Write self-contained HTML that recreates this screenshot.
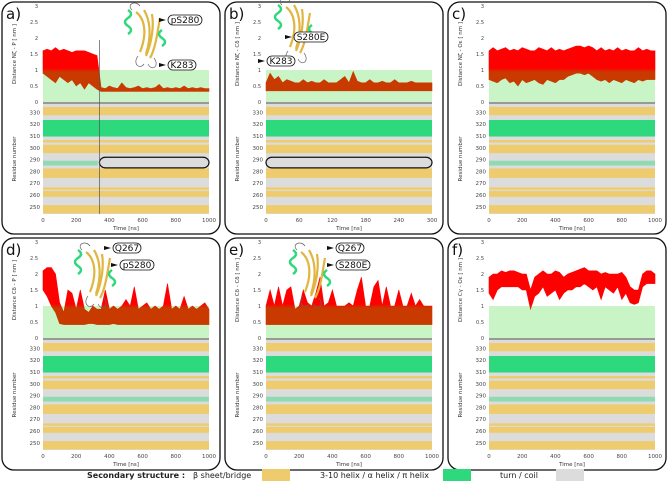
<!DOCTYPE html>
<html><head><meta charset="utf-8">
<style>
html,body{margin:0;padding:0;background:#fff;}
body{width:669px;height:483px;overflow:hidden;font-family:"Liberation Sans","DejaVu Sans",sans-serif;}
svg text{font-family:"DejaVu Sans","Liberation Sans",sans-serif;}
</style></head>
<body>
<svg id="fig" width="669" height="483" viewBox="0 0 669 483" xmlns="http://www.w3.org/2000/svg">
<defs>
<linearGradient id="gA" gradientUnits="userSpaceOnUse" x1="0" y1="0" x2="0" y2="100">
<stop offset="0" stop-color="#ff0000"/><stop offset="0.66" stop-color="#ff0000"/><stop offset="0.7" stop-color="#c83a00"/><stop offset="1" stop-color="#c83a00"/>
</linearGradient>
</defs>
<g id="panels"></g>
<g id="legend">
<text x="87" y="478" font-size="8" font-weight="bold" fill="#222">Secondary structure :</text>
<text x="193" y="478" font-size="8" fill="#222">β sheet/bridge</text>
<rect x="262" y="469" width="28" height="12" fill="#eecb6c"/>
<text x="320" y="478" font-size="8" fill="#222">3-10 helix / α helix / π helix</text>
<rect x="443" y="469" width="28" height="12" fill="#2ed87c"/>
<text x="500" y="478" font-size="8" fill="#222">turn / coil</text>
<rect x="556" y="469" width="28" height="12" fill="#dcdcdc"/>
</g>
</svg>
<script>
// ---- data ----
const panelLetters = ['a','b','c','d','e','f'];
const yLabels = ['Distance N\u03B6 - P [ nm ]','Distance N\u03B6 - C\u03B4 [ nm ]','Distance N\u03B6 - O\u03B5 [ nm ]','Distance C\u03B4 - P [ nm ]','Distance C\u03B4 - C\u03B4 [ nm ]','Distance C\u03B3 - O\u03B5 [ nm ]'];
const timeMax = [1000,300,1000,1000,1000,1000];
const xTicksLong = [0,200,400,600,800,1000];
const xTicksShort = [0,60,120,180,240,300];
const yTicks = [0,0.5,1,1.5,2,2.5,3];
const resTicks = [250,260,270,280,290,300,310,320,330];
const hiA = [1.6,1.65,1.6,1.7,1.6,1.65,1.6,1.55,1.6,1.6,1.6,1.55,1.5,1.45,0.45,0.42,0.5,0.45,0.42,0.6,0.45,0.42,0.45,0.5,0.42,0.45,0.42,0.45,0.55,0.42,0.45,0.42,0.45,0.42,0.5,0.42,0.45,0.42,0.45,0.42,0.42];
const loA = [0.9,0.8,0.7,0.6,0.8,0.7,0.6,0.7,0.5,0.6,0.4,0.6,0.5,0.4,0.33,0.33,0.33,0.33,0.33,0.33,0.33,0.33,0.33,0.33,0.33,0.33,0.33,0.33,0.33,0.33,0.33,0.33,0.33,0.33,0.33,0.33,0.33,0.33,0.33,0.33,0.33];
const hiB = [0.6,0.9,0.7,0.8,0.6,0.7,0.65,0.6,0.6,0.7,0.6,0.65,0.6,0.6,0.7,0.6,0.6,0.6,0.7,0.8,0.6,0.95,0.65,0.6,0.6,0.7,0.6,0.6,0.65,0.6,0.6,0.7,0.6,0.6,0.6,0.65,0.6,0.6,0.6,0.6,0.6];
const loB = [0.35,0.35,0.35,0.35,0.35,0.35,0.35,0.35,0.35,0.35,0.35,0.35,0.35,0.35,0.35,0.35,0.35,0.35,0.35,0.35,0.35,0.35,0.35,0.35,0.35,0.35,0.35,0.35,0.35,0.35,0.35,0.35,0.35,0.35,0.35,0.35,0.35,0.35,0.35,0.35,0.35];
const hiC = [1.6,1.7,1.6,1.65,1.7,1.6,1.65,1.6,1.7,1.65,1.6,1.6,1.7,1.65,1.6,1.7,1.6,1.65,1.6,1.65,1.7,1.75,1.75,1.7,1.75,1.7,1.6,1.7,1.6,1.65,1.6,1.7,1.6,1.65,1.6,1.6,1.7,1.6,1.65,1.6,1.6];
const loC = [0.7,0.65,0.6,0.7,0.75,0.6,0.65,0.5,0.7,0.6,0.65,0.7,0.6,0.55,0.7,0.65,0.6,0.7,0.7,0.8,0.85,0.9,0.9,0.85,0.9,0.8,0.7,0.65,0.7,0.6,0.7,0.65,0.6,0.7,0.65,0.6,0.7,0.65,0.7,0.7,0.7];
const hiD = [2.1,2.2,2.2,2.0,1.1,0.8,1.5,1.4,0.9,1.5,0.9,0.8,1.0,0.9,0.9,1.5,0.9,1.0,0.9,1.0,1.2,1.0,1.6,0.9,1.0,1.1,0.9,1.0,0.9,1.0,1.7,0.9,1.0,0.9,1.3,0.9,1.0,0.9,1.0,1.1,0.9];
const loD = [1.5,1.3,1.0,0.8,0.45,0.42,0.42,0.42,0.42,0.42,0.42,0.45,0.45,0.42,0.42,0.42,0.42,0.45,0.42,0.42,0.42,0.42,0.42,0.42,0.42,0.42,0.42,0.42,0.42,0.42,0.42,0.42,0.42,0.42,0.42,0.42,0.42,0.42,0.42,0.42,0.42];
const hiE = [1.0,1.5,1.0,1.6,1.0,1.5,1.6,0.9,1.0,1.5,1.1,1.0,1.4,1.9,1.0,1.1,1.5,1.0,1.0,1.0,1.1,1.0,1.5,1.9,1.0,1.0,1.6,1.8,1.0,1.6,1.0,1.0,1.5,1.0,1.0,1.4,1.0,1.2,1.0,1.0,1.0];
const loE = [0.42,0.42,0.42,0.42,0.42,0.42,0.42,0.42,0.42,0.42,0.42,0.42,0.42,0.42,0.42,0.42,0.42,0.42,0.42,0.42,0.42,0.42,0.42,0.42,0.42,0.42,0.42,0.42,0.42,0.42,0.42,0.42,0.42,0.42,0.42,0.42,0.42,0.42,0.42,0.42,0.42];
const hiF = [1.9,2.0,2.0,2.1,2.05,2.1,2.1,2.05,2.0,2.0,1.5,1.9,2.0,2.1,2.0,2.0,2.1,2.05,1.9,2.0,2.05,2.1,2.15,2.2,2.1,2.1,2.1,2.0,2.05,2.0,2.0,2.0,2.05,1.9,1.6,1.5,1.5,2.0,2.1,2.1,2.0];
const loF = [1.4,1.2,1.5,1.6,1.6,1.6,1.6,1.6,1.5,1.5,0.9,1.3,1.4,1.6,1.3,1.4,1.5,1.2,1.4,1.5,1.5,1.6,1.6,1.7,1.6,1.5,1.6,1.2,1.6,1.5,1.4,1.6,1.2,1.4,1.1,1.05,1.1,1.6,1.7,1.7,1.7];
const hiSeries = [hiA,hiB,hiC,hiD,hiE,hiF];
const loSeries = [loA,loB,loC,loD,loE,loF];
// secondary structure bands: [fromResidue, toResidue, type]
const ssBands = [[245,251,'sheet'],[259,263,'sheet'],[265,266,'sheet'],[275,282,'sheet'],[296,302,'sheet'],[305,306,'sheet'],[310,323,'helix'],[328,334,'sheet']];
const helixSpeckEnd = [330,0,1000,1000,1000,1000];

const P0 = [[2,2],[225,2],[448,2],[2,238],[225,238],[448,238]];
const colors = {sheet:'#eecb6c',helix:'#2ed87c',coil:'#dcdcdc'};
const NS='http://www.w3.org/2000/svg';
const root=document.getElementById('panels');
function mk(tag,attrs,parent){const e=document.createElementNS(NS,tag);for(const k in attrs)e.setAttribute(k,attrs[k]);(parent||root).appendChild(e);return e;}

for(let p=0;p<6;p++){
  const [ox,oy]=P0[p];
  const g=mk('g',{transform:`translate(${ox},${oy})`});
  
  
  const L=41,R=207,T=4,B0=100,RT=102,RB=212;
  const tmax=timeMax[p];
  const xs=t=>L+(R-L)*t/tmax;
  const ys=v=>B0-(B0-T)*v/3;
  const rs=r=>RB-(RB-RT)*(r-244)/(337-244);
  const frame=mk('rect',{x:0,y:0,width:218,height:232,rx:12,fill:'none',stroke:'#111','stroke-width':1.3},g);
  
  
  const lab=mk('text',{x:4,y:17,'font-size':15,fill:'#111'},g);lab.textContent=panelLetters[p]+')';
  
  
  const gz=mk('rect',{x:L,y:ys(1),width:R-L,height:ys(0)-ys(1),fill:'#c9f5c6'},g);
  
  
  yTicks.forEach(v=>{const t=mk('text',{x:L-5,y:ys(v)+2,'font-size':5,'text-anchor':'end',fill:'#444'},g);t.textContent=v;
    });
  const yl=mk('text',{transform:`translate(14,${(T+B0)/2}) rotate(-90)`,'font-size':5.5,'text-anchor':'middle',fill:'#333'},g);yl.textContent=yLabels[p];
  
  const hi=hiSeries[p],lo=loSeries[p],n=hi.length;
  let d='';
  for(let i=0;i<n;i++)d+=(i?'L':'M')+xs(i*tmax/(n-1)).toFixed(1)+','+ys(hi[i]).toFixed(1);
  for(let i=n-1;i>=0;i--)d+='L'+xs(i*tmax/(n-1)).toFixed(1)+','+ys(lo[i]).toFixed(1);
  const ser=mk('path',{d:d+'Z',fill:'url(#gA)',stroke:'url(#gA)','stroke-width':0.6},g);
  
  
  const bg=mk('rect',{x:L,y:RT,width:R-L,height:RB-RT,fill:colors.coil},g);
  
  ssBands.forEach(b=>{const r=mk('rect',{x:L,y:rs(b[1]+0.5),width:R-L,height:rs(b[0]-0.5)-rs(b[1]+0.5),fill:colors[b[2]]},g);
    });
  if(helixSpeckEnd[p]>0){const r=mk('rect',{x:L,y:rs(289),width:xs(Math.min(helixSpeckEnd[p],tmax))-L,height:rs(285)-rs(289),fill:colors.helix,opacity:0.45},g);
    }
  const sep=mk('rect',{x:L,y:B0,width:R-L,height:2,fill:'#999'},g);
  
  resTicks.forEach(v=>{const t=mk('text',{x:L-3,y:rs(v)+2,'font-size':5.5,'text-anchor':'end',fill:'#444'},g);t.textContent=v;
    });
  const rl=mk('text',{transform:`translate(14,${(RT+RB)/2}) rotate(-90)`,'font-size':5.5,'text-anchor':'middle',fill:'#333'},g);rl.textContent='Residue number';
  
  const xt=tmax===300?xTicksShort:xTicksLong;
  xt.forEach(v=>{const t=mk('text',{x:xs(v),y:RB+8,'font-size':5.5,'text-anchor':'middle',fill:'#444'},g);t.textContent=v;
    });
  const xl=mk('text',{x:(L+R)/2,y:RB+16,'font-size':5.5,'text-anchor':'middle',fill:'#333'},g);xl.textContent='Time [ns]';
  
  if(p===0||p===1){
    const hb=mk('rect',{x:p===0?xs(340):L,y:rs(292),width:p===0?R-xs(340):R-L,height:rs(283)-rs(292),rx:6,fill:'none',stroke:'#111','stroke-width':1.2},g);
    
  }
  if(p===0){const vl=mk('line',{x1:xs(340),x2:xs(340),y1:38,y2:RB,stroke:'#555','stroke-width':0.7},g);
    }
}
const insets=[[150,40,'pS280',168,15,'K283',168,60],[300,35,'S280E',294,32,'K283',267,56],[100,280,'Q267',113,243,'pS280',120,260],[315,280,'Q267',336,243,'S280E',336,260]];
insets.forEach(c=>{
  const [cx,cy]=c;
  const g=mk('g',{});
  
  
  mk('path',{d:`M${cx-14},${cy-28} c8,6 12,20 4,40 M${cx-6},${cy-30} c6,10 8,25 2,44 M${cx+2},${cy-26} c2,12 0,28 -6,42 M${cx+10},${cy-22} c-2,10 -4,30 -10,40`,stroke:'#e0b540','stroke-width':2.2,fill:'none'},g);
  mk('path',{d:`M${cx-22},${cy-6} q6,-4 0,-8 q-6,-4 0,-8 q6,-4 0,-8 M${cx+12},${cy+6} q6,-4 0,-8 q-6,-4 0,-8`,stroke:'#2ed87c','stroke-width':2.5,fill:'none'},g);
  mk('path',{d:`M${cx-12},${cy+16} c-6,8 2,14 6,8 M${cx+4},${cy+18} c6,8 -2,14 -6,6 M${cx-18},${cy-30} c-6,-6 4,-10 8,-4`,stroke:'#666','stroke-width':0.7,fill:'none'},g);
  [[c[2],c[3],c[4]],[c[5],c[6],c[7]]].forEach(([t,x,y])=>{
    const w=t.length*6+4;
    const b=mk('rect',{x:x,y:y,width:w,height:10,rx:5,fill:'#fff',stroke:'#111','stroke-width':0.8},g);
    
    const tx=mk('text',{x:x+w/2,y:y+8,'font-size':9,'text-anchor':'middle',fill:'#111'},g);tx.textContent=t;
    mk('path',{d:`M${x-2},${y+5} l-7,-2 l0,4 Z`,fill:'#111'},g);
  });
});
</script>
</body></html>
